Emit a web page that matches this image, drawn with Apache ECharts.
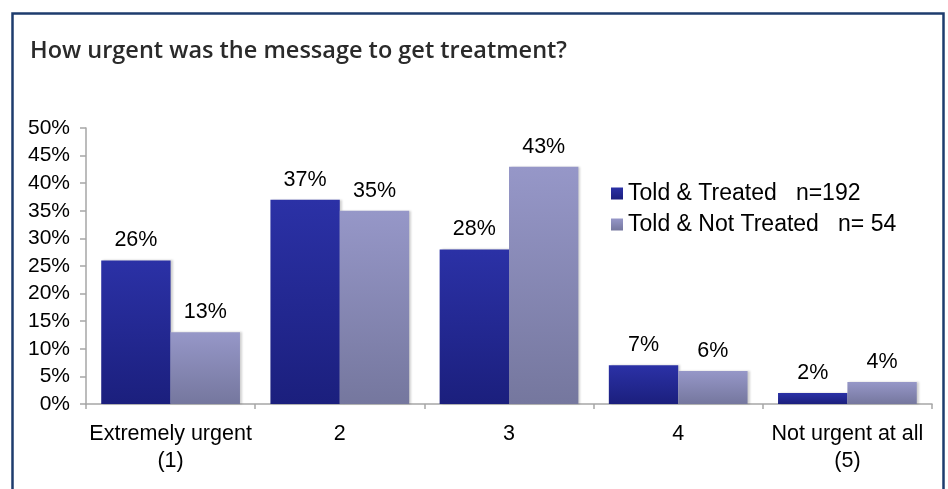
<!DOCTYPE html>
<html>
<head>
<meta charset="utf-8">
<script src="https://cdn.jsdelivr.net/npm/echarts@6/dist/echarts.min.js"></script>
<style>html,body{margin:0;padding:0;background:#fff}#c{width:948px;height:489px}</style>
</head>
<body>
<div id="c"></div>
<script>
const titleText = 'How urgent was the message to get treatment?';
const categories = ['Extremely urgent\n(1)', '2', '3', '4', 'Not urgent at all\n(5)'];
const seriesNames = ['Told & Treated', 'Told & Not Treated'];
const sampleSizes = ['n=192', 'n= 54'];
const treated = [26, 37, 28, 7, 2];
const notTreated = [13, 35, 43, 6, 4];
const yTicks = { min: 0, max: 50, interval: 5 };

const FONT = '"Liberation Sans", Arial, sans-serif';
const chart = echarts.init(document.getElementById('c'));
function grad(top, bottom) {
  return new echarts.graphic.LinearGradient(0, 0, 0, 1, [
    { offset: 0, color: top }, { offset: 1, color: bottom }
  ]);
}
const colors = [grad('#2b31a6', '#1b1f7d'), grad('#9697c8', '#75779e')];
const labelCfg = {
  show: true, position: 'top', distance: 9,
  formatter: '{c}%', color: '#000', fontSize: 21.5, fontFamily: FONT
};
chart.setOption({
  animation: false,
  title: {
    text: titleText, left: 30, top: 39, padding: 0,
    textStyle: { fontFamily: '"Open Sans", sans-serif', fontWeight: 600, fontSize: 23.5, color: '#2a2a2a' }
  },
  graphic: [{
    type: 'rect', left: 10, top: 11, shape: { width: 931, height: 520 },
    style: { fill: 'none', stroke: '#1e3c6e', lineWidth: 2.5 }, silent: true
  }],
  legend: {
    orient: 'vertical', left: 611, top: 182, padding: 0, itemWidth: 12, itemHeight: 12, itemGap: 8,
    icon: 'rect',
    formatter: function (name) {
      const i = seriesNames.indexOf(name);
      return name + '   ' + sampleSizes[i];
    },
    textStyle: { fontFamily: FONT, fontSize: 23, color: '#000' }
  },
  grid: { left: 86, right: 16, top: 128, bottom: 85 },
  xAxis: {
    type: 'category', data: categories,
    axisLine: { lineStyle: { color: '#a6a6a6', width: 1.5 } },
    axisTick: { show: true, length: 5, lineStyle: { color: '#a6a6a6', width: 1.5 } },
    axisLabel: { color: '#000', fontSize: 21.5, fontFamily: FONT, margin: 17, lineHeight: 27, interval: 0 }
  },
  yAxis: {
    type: 'value', min: yTicks.min, max: yTicks.max, interval: yTicks.interval,
    splitLine: { show: false },
    axisLine: { show: true, lineStyle: { color: '#a6a6a6', width: 1.5 } },
    axisTick: { show: true, inside: false, length: 6, lineStyle: { color: '#a6a6a6', width: 1.5 } },
    axisLabel: { formatter: '{value}%', color: '#000', fontSize: 21, fontFamily: FONT, margin: 16 }
  },
  series: [
    { name: seriesNames[0], type: 'bar', data: treated, barGap: '0%', barCategoryGap: '18%',
      itemStyle: { color: colors[0], shadowColor: 'rgba(0,0,0,0.18)', shadowBlur: 2, shadowOffsetX: 2 },
      label: labelCfg },
    { name: seriesNames[1], type: 'bar', data: notTreated,
      itemStyle: { color: colors[1], shadowColor: 'rgba(0,0,0,0.18)', shadowBlur: 2, shadowOffsetX: 2 },
      label: labelCfg }
  ]
});
</script>
</body>
</html>
